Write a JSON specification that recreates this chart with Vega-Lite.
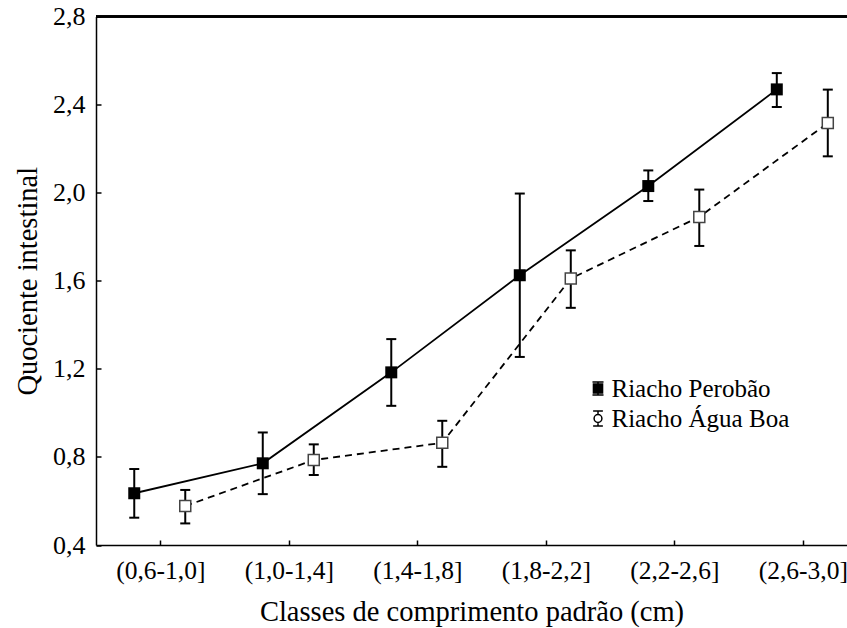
{
  "$schema": "https://vega.github.io/schema/vega-lite/v6.json",
  "width": 751,
  "height": 528.5,
  "autosize": {"type": "none"},
  "padding": {"left": 96, "top": 16.5, "right": 0, "bottom": 83},
  "background": "white",
  "config": {"view": {"stroke": null}, "font": "Liberation Serif"},
  "data": {
    "values": [
      {"i": 0, "classe": "(0,6-1,0]", "serie": "Riacho Perobão", "media": 0.635, "min": 0.524, "max": 0.745},
      {"i": 1, "classe": "(1,0-1,4]", "serie": "Riacho Perobão", "media": 0.771, "min": 0.631, "max": 0.911},
      {"i": 2, "classe": "(1,4-1,8]", "serie": "Riacho Perobão", "media": 1.184, "min": 1.032, "max": 1.335},
      {"i": 3, "classe": "(1,8-2,2]", "serie": "Riacho Perobão", "media": 1.625, "min": 1.254, "max": 1.996},
      {"i": 4, "classe": "(2,2-2,6]", "serie": "Riacho Perobão", "media": 2.030, "min": 1.962, "max": 2.101},
      {"i": 5, "classe": "(2,6-3,0]", "serie": "Riacho Perobão", "media": 2.469, "min": 2.389, "max": 2.543},
      {"i": 0, "classe": "(0,6-1,0]", "serie": "Riacho Água Boa", "media": 0.577, "min": 0.498, "max": 0.650},
      {"i": 1, "classe": "(1,0-1,4]", "serie": "Riacho Água Boa", "media": 0.786, "min": 0.718, "max": 0.857},
      {"i": 2, "classe": "(1,4-1,8]", "serie": "Riacho Água Boa", "media": 0.864, "min": 0.755, "max": 0.964},
      {"i": 3, "classe": "(1,8-2,2]", "serie": "Riacho Água Boa", "media": 1.610, "min": 1.477, "max": 1.738},
      {"i": 4, "classe": "(2,2-2,6]", "serie": "Riacho Água Boa", "media": 1.890, "min": 1.758, "max": 2.014},
      {"i": 5, "classe": "(2,6-3,0]", "serie": "Riacho Água Boa", "media": 2.316, "min": 2.165, "max": 2.468}
    ]
  },
  "layer": [
    {
      "transform": [{"filter": "datum.serie === 'Riacho Perobão'"}],
      "mark": {"type": "line", "color": "black", "strokeWidth": 1.8, "xOffset": -26},
      "encoding": {
        "x": {
          "field": "i", "type": "quantitative",
          "scale": {"domain": [-0.5, 5.344], "nice": false, "zero": false},
          "axis": {
            "values": [0, 1, 2, 3, 4, 5],
            "labelExpr": "['(0,6-1,0]','(1,0-1,4]','(1,4-1,8]','(1,8-2,2]','(2,2-2,6]','(2,6-3,0]'][datum.value]",
            "title": "Classes de comprimento padrão (cm)",
            "grid": false, "tickSize": -5, "tickWidth": 1.5, "tickColor": "black",
            "domainColor": "black", "domainWidth": 1.5,
            "labelFont": "Liberation Serif", "labelFontSize": 25.5, "labelColor": "black", "labelPadding": 18, "labelDx": -3,
            "labelFlush": false, "labelOverlap": false, "labelBound": false,
            "titleFont": "Liberation Serif", "titleFontSize": 28.5, "titleFontWeight": "normal", "titleColor": "black", "titlePadding": 14
          }
        },
        "y": {
          "field": "media", "type": "quantitative",
          "scale": {"domain": [0.4, 2.8], "nice": false, "zero": false},
          "axis": {
            "values": [0.4, 0.8, 1.2, 1.6, 2.0, 2.4, 2.8],
            "labelExpr": "replace(format(datum.value, '.1f'), '.', ',')",
            "title": "Quociente intestinal",
            "grid": false, "tickSize": -5, "tickWidth": 1.5, "tickColor": "black",
            "domainColor": "black", "domainWidth": 1.5,
            "labelFont": "Liberation Serif", "labelFontSize": 26, "labelColor": "black", "labelPadding": 16,
            "labelFlush": false, "labelOverlap": false, "labelBound": false,
            "titleFont": "Liberation Serif", "titleFontSize": 28.5, "titleFontWeight": "normal", "titleColor": "black", "titlePadding": 10
          }
        }
      }
    },
    {
      "transform": [{"filter": "datum.serie === 'Riacho Água Boa'"}],
      "mark": {"type": "line", "color": "black", "strokeWidth": 1.8, "strokeDash": [7, 5], "xOffset": 25},
      "encoding": {
        "x": {"field": "i", "type": "quantitative"},
        "y": {"field": "media", "type": "quantitative"}
      }
    },
    {
      "transform": [{"filter": "datum.serie === 'Riacho Perobão'"}],
      "layer": [
        {
          "mark": {"type": "rule", "color": "black", "strokeWidth": 2, "xOffset": -26},
          "encoding": {
            "x": {"field": "i", "type": "quantitative"},
            "y": {"field": "min", "type": "quantitative"},
            "y2": {"field": "max"}
          }
        },
        {
          "mark": {"type": "tick", "orient": "horizontal", "color": "black", "size": 10, "thickness": 2, "opacity": 1, "xOffset": -26},
          "encoding": {
            "x": {"field": "i", "type": "quantitative"},
            "y": {"field": "min", "type": "quantitative"}
          }
        },
        {
          "mark": {"type": "tick", "orient": "horizontal", "color": "black", "size": 10, "thickness": 2, "opacity": 1, "xOffset": -26},
          "encoding": {
            "x": {"field": "i", "type": "quantitative"},
            "y": {"field": "max", "type": "quantitative"}
          }
        },
        {
          "mark": {"type": "point", "shape": "square", "filled": true, "color": "black", "size": 144, "opacity": 1, "xOffset": -26},
          "encoding": {
            "x": {"field": "i", "type": "quantitative"},
            "y": {"field": "media", "type": "quantitative"}
          }
        }
      ]
    },
    {
      "transform": [{"filter": "datum.serie === 'Riacho Água Boa'"}],
      "layer": [
        {
          "mark": {"type": "rule", "color": "black", "strokeWidth": 2, "xOffset": 25},
          "encoding": {
            "x": {"field": "i", "type": "quantitative"},
            "y": {"field": "min", "type": "quantitative"},
            "y2": {"field": "max"}
          }
        },
        {
          "mark": {"type": "tick", "orient": "horizontal", "color": "black", "size": 10, "thickness": 2, "opacity": 1, "xOffset": 25},
          "encoding": {
            "x": {"field": "i", "type": "quantitative"},
            "y": {"field": "min", "type": "quantitative"}
          }
        },
        {
          "mark": {"type": "tick", "orient": "horizontal", "color": "black", "size": 10, "thickness": 2, "opacity": 1, "xOffset": 25},
          "encoding": {
            "x": {"field": "i", "type": "quantitative"},
            "y": {"field": "max", "type": "quantitative"}
          }
        },
        {
          "mark": {"type": "point", "shape": "square", "filled": true, "fill": "white", "stroke": "#444", "strokeWidth": 1.5, "size": 121, "opacity": 1, "xOffset": 25},
          "encoding": {
            "x": {"field": "i", "type": "quantitative"},
            "y": {"field": "media", "type": "quantitative"}
          }
        }
      ]
    },
    {
      "mark": {"type": "point", "filled": true, "stroke": "black", "strokeWidth": 1.5, "opacity": 0},
      "encoding": {
        "x": {"field": "i", "type": "quantitative"},
        "y": {"field": "media", "type": "quantitative"},
        "shape": {
          "field": "serie", "type": "nominal",
          "scale": {
            "domain": ["Riacho Perobão", "Riacho Água Boa"],
            "range": [
              "M-0.7,-0.7H0.7V0.7H-0.7Z M0,-1V1 M-0.85,-1H0.85 M-0.85,1H0.85",
              "M0.6,0A0.6,0.6,0,1,1,-0.6,0A0.6,0.6,0,1,1,0.6,0Z M0,-1.15V-0.6 M0,0.6V1.15 M-0.75,-1.15H0.75 M-0.75,1.15H0.75"
            ]
          },
          "legend": {
            "orient": "none", "legendX": 489.5, "legendY": 359.5, "title": null,
            "labelFont": "Liberation Serif", "labelFontSize": 25, "labelColor": "black", "labelLimit": 400,
            "symbolSize": 169, "symbolOpacity": 1,
            "labelOffset": 1, "rowPadding": 4, "padding": 0,
            "encode": {"symbols": {"update": {"stroke": {"value": "black"}, "strokeWidth": {"value": 1.5}}}}
          }
        },
        "fill": {
          "field": "serie", "type": "nominal",
          "scale": {"domain": ["Riacho Perobão", "Riacho Água Boa"], "range": ["black", "white"]}
        }
      }
    },
    {
      "mark": {"type": "rule", "color": "black", "strokeWidth": 1.5},
      "encoding": {"y": {"datum": 2.8, "type": "quantitative"}}
    }
  ]
}
